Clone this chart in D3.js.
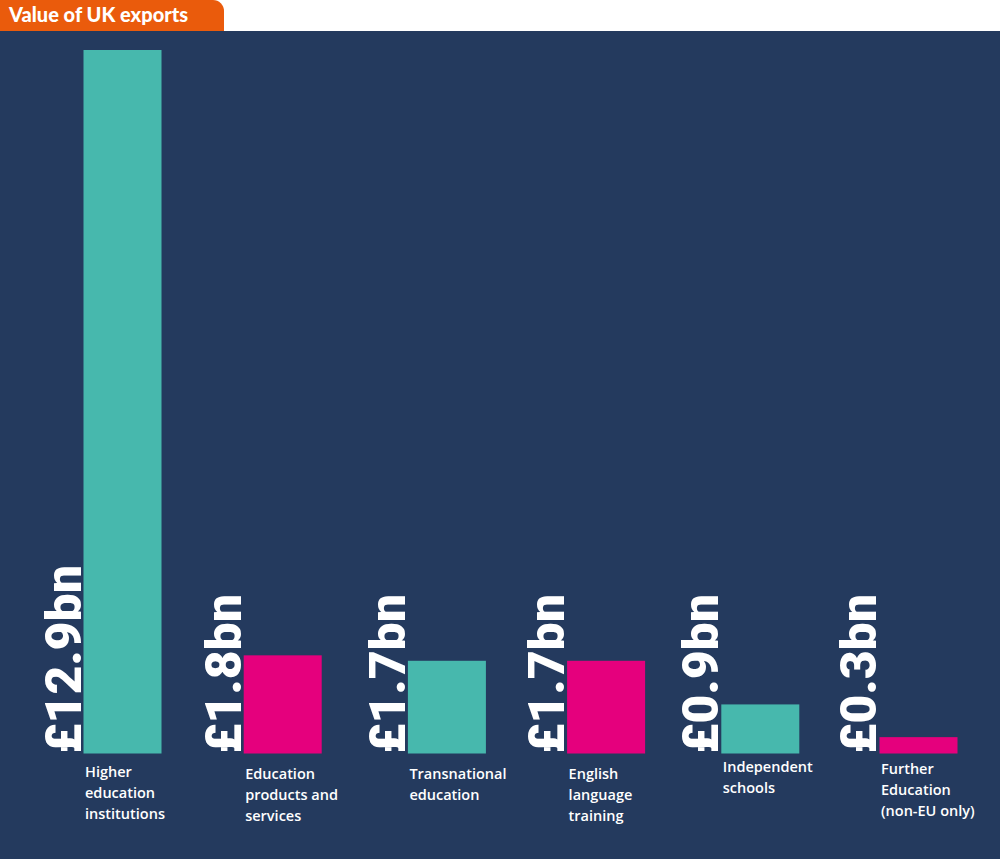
<!DOCTYPE html>
<html><head><meta charset="utf-8">
<script src="https://cdn.jsdelivr.net/npm/d3@7"></script>
<style>
html,body{margin:0;padding:0;background:#fff;}
svg{display:block;}
</style></head>
<body>
<script>
const title = "Value of UK exports";
const categories = [
  ["Higher","education","institutions"],
  ["Education","products and","services"],
  ["Transnational","education"],
  ["English","language","training"],
  ["Independent","schools"],
  ["Further","Education","(non-EU only)"]
];
const values = [12.9, 1.8, 1.7, 1.7, 0.9, 0.3];
const valueLabels = ["£12.9bn","£1.8bn","£1.7bn","£1.7bn","£0.9bn","£0.3bn"];
// small layout nudges seen in the picture (not data)
const barShifts = [0, 1, 6, 6, 1, 0];
const labelOffsets = [0, 2, 2, 2, -5, -3];

const W = 1000, H = 859;
const bg = "#243a5e", teal = "#47b8ad", pink = "#e5007d", orange = "#ea5b0c";

const svg = d3.select("body").append("svg").attr("width", W).attr("height", H);
svg.append("rect").attr("width", W).attr("height", H).attr("fill", "#fff");
svg.append("rect").attr("x", 0).attr("y", 31).attr("width", W).attr("height", H - 31).attr("fill", bg);

// title tab with rounded top-right corner
const tw = 224, th = 31, r = 11;
svg.append("path")
  .attr("d", `M0,0 H${tw - r} A${r},${r} 0 0 1 ${tw},${r} V${th} H0 Z`)
  .attr("fill", orange);
svg.append("text").attr("x", 9).attr("y", 22)
  .attr("fill", "#fff").attr("font-family", "Lato, 'Open Sans', sans-serif")
  .attr("font-weight", 900).attr("font-size", 20).text(title);

const x = d3.scaleBand().domain(d3.range(values.length)).range([83.5, 957.5]).paddingInner(0.51).paddingOuter(0);
const bx = i => x(i) + barShifts[i];
const baseY = 753.5;
const y = d3.scaleLinear().domain([0, 12.9]).range([baseY, 50]);

const g = svg.append("g");
g.selectAll("rect.bar").data(values).join("rect")
  .attr("class", "bar")
  .attr("x", (d, i) => bx(i))
  .attr("y", d => y(d))
  .attr("width", x.bandwidth())
  .attr("height", d => baseY - y(d))
  .attr("fill", (d, i) => i % 2 ? pink : teal);

g.selectAll("text.val").data(values).join("text")
  .attr("class", "val")
  .attr("transform", (d, i) => `translate(${bx(i) - 3},${baseY}) rotate(-90)`)
  .attr("fill", "#fff")
  .attr("font-family", "Roboto, sans-serif")
  .attr("font-weight", 900)
  .attr("font-size", 50)
  .text((d, i) => valueLabels[i]);

const lab = g.selectAll("text.cat").data(categories).join("text")
  .attr("class", "cat")
  .attr("x", (d, i) => bx(i) + 1.5)
  .attr("y", (d, i) => 777 + labelOffsets[i])
  .attr("fill", "#fff")
  .attr("font-family", "'Open Sans', sans-serif")
  .attr("font-weight", 600)
  .attr("font-size", 14.5);
lab.each(function (d) {
  const t = d3.select(this);
  const x0 = t.attr("x");
  d.forEach((line, k) => {
    t.append("tspan").attr("x", x0).attr("dy", k ? 21 : 0).text(line);
  });
});
</script>
</body></html>
